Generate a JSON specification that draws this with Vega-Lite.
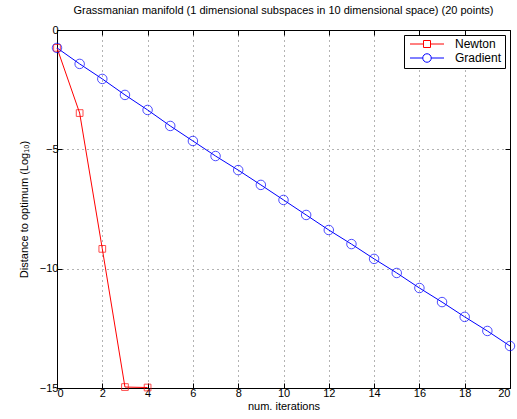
{
  "$schema": "https://vega.github.io/schema/vega-lite/v6.json",
  "width": 453,
  "height": 358,
  "autosize": "none",
  "padding": {"left": 57, "top": 30, "right": 7, "bottom": 31},
  "title": {"text": "Grassmanian manifold (1 dimensional subspaces in 10 dimensional space) (20 points)", "font": "Liberation Sans", "fontSize": 11, "fontWeight": "normal", "color": "black", "offset": 8, "anchor": "middle"},
  "config": {
    "view": {"stroke": "black", "strokeWidth": 1},
    "font": "Liberation Sans",
    "axis": {"labelFont": "Liberation Sans", "titleFont": "Liberation Sans", "labelFontSize": 11, "titleFontSize": 11, "titleFontWeight": "normal", "labelColor": "black", "titleColor": "black", "domainColor": "black", "tickColor": "black", "tickSize": -5, "labelPadding": 4, "gridColor": "#000", "gridDash": [1, 4], "gridOpacity": 0.6}
  },
  "data": {"values": [
    {"it": 0, "v": -0.75, "s": "Newton"},
    {"it": 1, "v": -3.48, "s": "Newton"},
    {"it": 2, "v": -9.17, "s": "Newton"},
    {"it": 3, "v": -14.96, "s": "Newton"},
    {"it": 4, "v": -14.98, "s": "Newton"},
    {"it": 0, "v": -0.75, "s": "Gradient"},
    {"it": 1, "v": -1.42, "s": "Gradient"},
    {"it": 2, "v": -2.05, "s": "Gradient"},
    {"it": 3, "v": -2.72, "s": "Gradient"},
    {"it": 4, "v": -3.35, "s": "Gradient"},
    {"it": 5, "v": -4.02, "s": "Gradient"},
    {"it": 6, "v": -4.65, "s": "Gradient"},
    {"it": 7, "v": -5.28, "s": "Gradient"},
    {"it": 8, "v": -5.87, "s": "Gradient"},
    {"it": 9, "v": -6.49, "s": "Gradient"},
    {"it": 10, "v": -7.12, "s": "Gradient"},
    {"it": 11, "v": -7.75, "s": "Gradient"},
    {"it": 12, "v": -8.38, "s": "Gradient"},
    {"it": 13, "v": -8.97, "s": "Gradient"},
    {"it": 14, "v": -9.59, "s": "Gradient"},
    {"it": 15, "v": -10.18, "s": "Gradient"},
    {"it": 16, "v": -10.81, "s": "Gradient"},
    {"it": 17, "v": -11.40, "s": "Gradient"},
    {"it": 18, "v": -12.02, "s": "Gradient"},
    {"it": 19, "v": -12.61, "s": "Gradient"},
    {"it": 20, "v": -13.24, "s": "Gradient"}
  ]},
  "resolve": {"axis": {"x": "independent", "y": "independent"}},
  "layer": [
    {"mark": {"type": "line", "strokeWidth": 1, "clip": false},
     "encoding": {
       "x": {"field": "it", "type": "quantitative", "scale": {"domain": [0, 20], "nice": false}, "axis": {"values": [0, 2, 4, 6, 8, 10, 12, 14, 16, 18, 20], "title": "num. iterations", "titlePadding": 2, "grid": true}},
       "y": {"field": "v", "type": "quantitative", "scale": {"domain": [-15, 0], "nice": false}, "axis": {"values": [-15, -10, -5, 0], "title": "Distance to optimum (Log₁₀)", "titlePadding": 10, "grid": true}},
       "detail": {"field": "s"},
       "color": {"field": "s", "type": "nominal", "scale": {"domain": ["Newton", "Gradient"], "range": ["#ff0000", "#0000ff"]}, "legend": {
         "title": null, "orient": "top-right", "offset": 5, "strokeColor": "black", "fillColor": "white", "padding": 3, "rowPadding": 1,
         "labelFont": "Liberation Sans", "labelFontSize": 12, "labelColor": "black", "symbolSize": 100, "symbolOffset": 14, "labelOffset": 22, "symbolStrokeWidth": 1, "symbolFillColor": "transparent",
         "encode": {"symbols": {"update": {"shape": {"signal": "datum.value === 'Newton' ? 'M-3.4,0H-0.7M-0.7,-0.7H0.7V0.7H-0.7ZM0.7,0H3.4' : 'M-3.4,0H-0.85A0.85,0.85 0 1 1 0.85,0H3.4M0.85,0A0.85,0.85 0 1 1 -0.85,0'"}, "fill": {"value": "transparent"}}}}
       }}
     }},
    {"transform": [{"filter": "datum.s === 'Newton'"}],
     "mark": {"type": "point", "shape": "square", "size": 45, "filled": false, "strokeWidth": 1, "clip": false},
     "encoding": {
       "x": {"field": "it", "type": "quantitative", "axis": {"orient": "top", "values": [0, 2, 4, 6, 8, 10, 12, 14, 16, 18, 20], "labels": false, "title": null, "grid": false, "domain": false}},
       "y": {"field": "v", "type": "quantitative", "axis": {"orient": "right", "values": [-15, -10, -5, 0], "labels": false, "title": null, "grid": false, "domain": false}},
       "color": {"field": "s", "type": "nominal"}
     }},
    {"transform": [{"filter": "datum.s === 'Gradient'"}],
     "mark": {"type": "point", "shape": "circle", "size": 90, "filled": false, "strokeWidth": 1, "clip": false},
     "encoding": {
       "x": {"field": "it", "type": "quantitative", "axis": null},
       "y": {"field": "v", "type": "quantitative", "axis": null},
       "color": {"field": "s", "type": "nominal"}
     }}
  ]
}
